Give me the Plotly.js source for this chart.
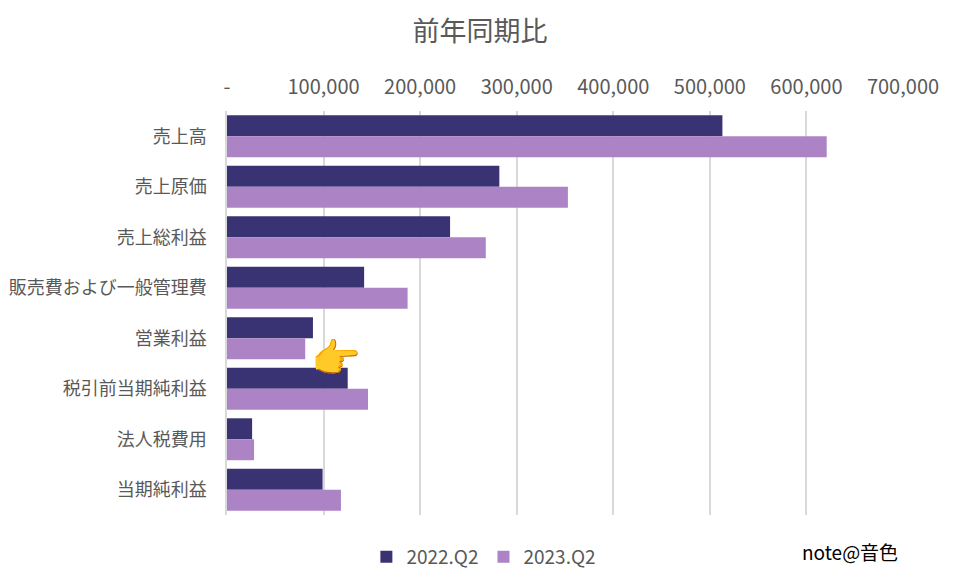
<!DOCTYPE html>
<html>
<head>
<meta charset="utf-8">
<script src="https://cdn.plot.ly/plotly-3.0.1.min.js"></script>
<style>body{margin:0;background:#fff}#chart{width:960px;height:577px}</style>
</head>
<body>
<div id="chart"></div>
<script>
// 前年同期比 読み取り値
var items = ["売上高", "売上原価", "売上総利益", "販売費および一般管理費", "営業利益", "税引前当期純利益", "法人税費用", "当期純利益"];
var q2022 = [513000, 282000, 231000, 142000, 89000, 125000, 26000, 99000];
var q2023 = [621000, 353000, 268000, 187000, 81000, 146000, 28000, 118000];
var tickVals = [0, 100000, 200000, 300000, 400000, 500000, 600000, 700000];
var tickText = ["-", "100,000", "200,000", "300,000", "400,000", "500,000", "600,000", "700,000"];

var font = "Noto Sans CJK JP, sans-serif";

var trace1 = {
  y: items,
  x: q2022,
  name: "2022.Q2",
  type: "bar",
  orientation: "h",
  marker: {color: "#3A3373"},
  hoverinfo: "x+y"
};

var trace2 = {
  y: items,
  x: q2023,
  name: "2023.Q2",
  type: "bar",
  orientation: "h",
  marker: {color: "#AC84C6"},
  hoverinfo: "x+y"
};

var layout = {
  width: 960,
  height: 577,
  font: {family: font, color: "#595959", size: 16},
  title: {text: "前年同期比", x: 0.5, xanchor: "center", y: 0.945, yanchor: "middle",
          font: {size: 27, color: "#595959", family: font}},
  margin: {l: 227, r: 57, t: 111, b: 62},
  barmode: "group",
  bargap: 0.17,
  bargroupgap: 0,
  xaxis: {
    side: "top",
    range: [0, 700000],
    tickvals: tickVals,
    ticktext: tickText,
    showgrid: true,
    gridcolor: "#D9D9D9",
    gridwidth: 1.5,
    zeroline: false,
    showline: false,
    ticks: "",
    ticklabelstandoff: 12,
    tickfont: {size: 20, color: "#595959"}
  },
  yaxis: {
    autorange: "reversed",
    showline: true,
    linecolor: "#D9D9D9",
    linewidth: 1.5,
    ticks: "",
    ticklabelstandoff: 15,
    tickfont: {size: 18, color: "#595959"}
  },
  legend: {
    orientation: "h",
    x: 0.38,
    xanchor: "center",
    yref: "container",
    y: 0.035,
    yanchor: "middle",
    font: {size: 19, color: "#595959"},
    itemwidth: 30
  },
  annotations: [{
    text: "note@音色",
    xref: "paper", yref: "paper",
    x: 0.9956, xanchor: "right",
    y: -0.09, yanchor: "middle",
    showarrow: false,
    font: {size: 19, color: "#000000", family: font}
  }, {
    text: "👉",
    xref: "paper", yref: "paper",
    x: (336 - 227) / 676, xanchor: "center",
    y: (515 - 358) / 404, yanchor: "middle",
    showarrow: false,
    font: {size: 40, family: "Noto Color Emoji, sans-serif"}
  }],
  paper_bgcolor: "#ffffff",
  plot_bgcolor: "#ffffff"
};

Plotly.newPlot("chart", [trace1, trace2], layout, {displayModeBar: false});
</script>
</body>
</html>
